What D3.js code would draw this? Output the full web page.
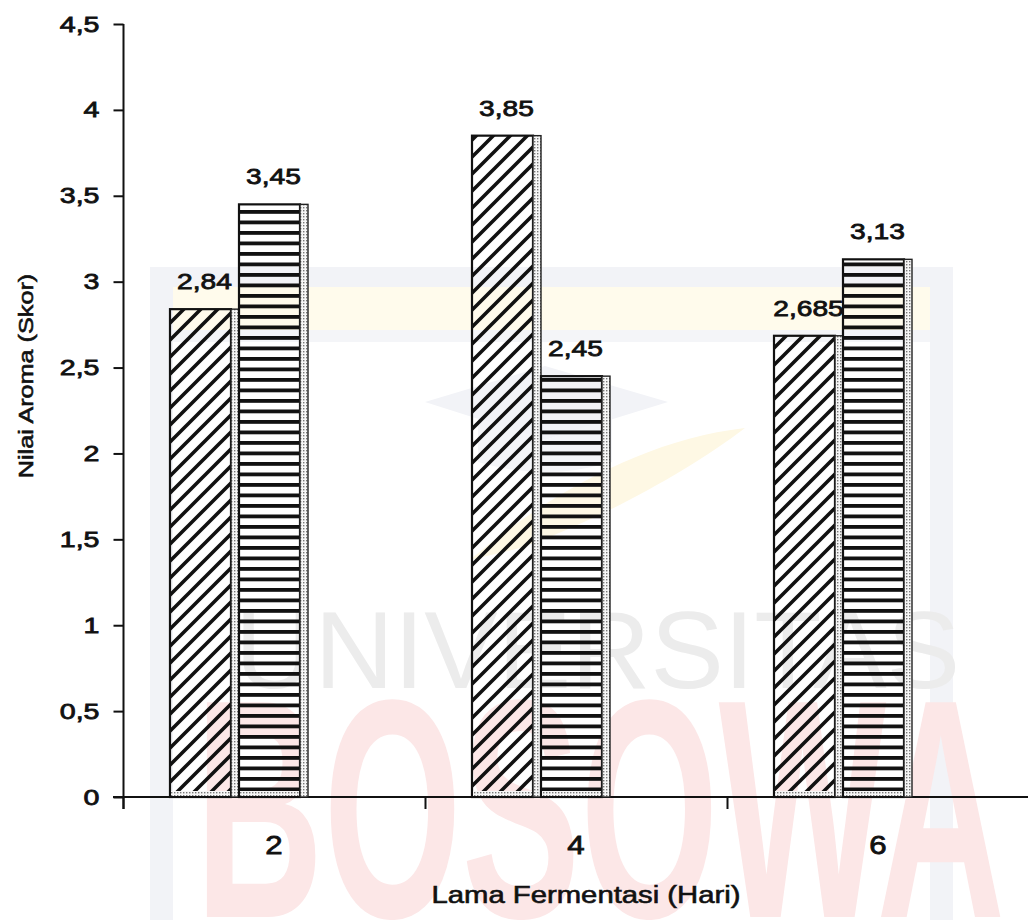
<!DOCTYPE html>
<html>
<head>
<meta charset="utf-8">
<script src="https://cdn.jsdelivr.net/npm/d3@7"></script>
<style>
  html, body { margin: 0; padding: 0; background: #fff; }
  svg { display: block; }
  text { font-family: "Liberation Sans", Arial, Helvetica, sans-serif; fill: #111; }
</style>
</head>
<body>
<svg id="chart" width="1028" height="920"></svg>
<script>
// ---- data ----
const categories = ["2", "4", "6"];                 // Lama fermentasi (hari)
const seriesHatched = [2.84, 3.85, 2.685];          // diagonal-hatched bars
const seriesStriped = [3.45, 2.45, 3.13];           // horizontal-striped bars
const yTicks = [0, 0.5, 1, 1.5, 2, 2.5, 3, 3.5, 4, 4.5];
const xTitle = "Lama Fermentasi (Hari)";
const yTitle = "Nilai Aroma (Skor)";

// decimal comma, as in the Indonesian number format
const fmt = v => String(v).replace(".", ",");

const svg = d3.select("#chart");

// ---- scales ----
const y = d3.scaleLinear().domain([0, 4.5]).range([797, 24]);
const x = d3.scaleBand().domain(categories).range([123, 1029]).padding(0);

// ---- patterns ----
const defs = svg.append("defs");
const hatch = defs.append("pattern").attr("id", "hatch")
  .attr("patternUnits", "userSpaceOnUse").attr("width", 17).attr("height", 17);
hatch.append("path")
  .attr("d", "M-4,4 L4,-4 M0,17 L17,0 M13,21 L21,13")
  .attr("stroke", "#111").attr("stroke-width", 3.6);

const stripes = defs.append("pattern").attr("id", "stripes")
  .attr("patternUnits", "userSpaceOnUse").attr("width", 10).attr("height", 10.5);
stripes.append("rect").attr("width", 10).attr("height", 3.8).attr("fill", "#111");

const dots = defs.append("pattern").attr("id", "dots")
  .attr("patternUnits", "userSpaceOnUse").attr("width", 3).attr("height", 3);
dots.append("rect").attr("width", 3).attr("height", 3).attr("fill", "#f6f6f6");
dots.append("rect").attr("width", 1.4).attr("height", 1.4).attr("fill", "#777");

// ---- faint background emblem ----
const emblem = svg.append("g").attr("class", "emblem");
emblem.append("rect").attr("x", 150).attr("y", 267).attr("width", 803).attr("height", 660).attr("fill", "#f2f3f7");
emblem.append("rect").attr("x", 173).attr("y", 287).attr("width", 757).attr("height", 660).attr("fill", "#fff");
emblem.append("rect").attr("x", 173).attr("y", 287).attr("width", 757).attr("height", 43).attr("fill", "#fffbec");
emblem.append("rect").attr("x", 173).attr("y", 330).attr("width", 757).attr("height", 12).attr("fill", "#f4f5f8");
// mortarboard
emblem.append("path")
  .attr("d", "M425,402 L545,366 L668,402 L545,440 Z")
  .attr("fill", "#f2f3f7");
emblem.append("path")
  .attr("d", "M478,418 L478,462 Q545,482 612,462 L612,418 L545,440 Z")
  .attr("fill", "#f4f5f8");
// quill
emblem.append("path")
  .attr("d", "M470,560 C540,500 640,440 745,428 C690,470 600,520 520,548 Z")
  .attr("fill", "#fef8e4");
emblem.append("text")
  .attr("x", 235).attr("y", 688)
  .attr("font-size", 110)
  .attr("textLength", 725).attr("lengthAdjust", "spacingAndGlyphs")
  .style("fill", "#ececec")
  .text("UNIVERSITAS");
emblem.append("text")
  .attr("x", 195).attr("y", 917)
  .attr("font-size", 312).attr("font-weight", "bold")
  .attr("font-family", "'DejaVu Sans', 'Liberation Sans', sans-serif")
  .attr("textLength", 810).attr("lengthAdjust", "spacingAndGlyphs")
  .style("fill", "#fce7e7")
  .text("BOSOWA");

// ---- y axis ----
const yAxis = svg.append("g").attr("transform", "translate(123.5,0)")
  .call(d3.axisLeft(y).tickValues(yTicks).tickFormat(fmt).tickSize(10));
yAxis.select(".domain").remove();
yAxis.selectAll(".tick line").attr("stroke", "#111").attr("stroke-width", 2);
yAxis.selectAll(".tick text")
  .attr("x", null)
  .attr("transform", "translate(-24,0) scale(1.3,1)")
  .attr("font-size", 22)
  .attr("stroke", "#111").attr("stroke-width", 0.8)
  .style("fill", "#111");
svg.append("line")
  .attr("x1", 123.5).attr("x2", 123.5)
  .attr("y1", y(4.5)).attr("y2", y(0) + 12)
  .attr("stroke", "#111").attr("stroke-width", 2);

// ---- x axis ----
svg.append("line")
  .attr("x1", 113).attr("x2", 1028)
  .attr("y1", y(0)).attr("y2", y(0))
  .attr("stroke", "#111").attr("stroke-width", 2);
svg.append("g").selectAll("line").data(categories).join("line")
  .attr("x1", d => x(d) + 0.5).attr("x2", d => x(d) + 0.5)
  .attr("y1", y(0)).attr("y2", y(0) + 12)
  .attr("stroke", "#111").attr("stroke-width", 2);

const xAxis = svg.append("g").attr("transform", `translate(0,${y(0)})`)
  .call(d3.axisBottom(x).tickSize(0).tickPadding(39));
xAxis.select(".domain").remove();
xAxis.selectAll(".tick text")
  .attr("transform", "scale(1.2,1)")
  .attr("font-size", 26)
  .attr("stroke", "#111").attr("stroke-width", 0.8)
  .style("fill", "#111");

// ---- bars ----
const slot = 69, strip = 8, groupOffset = 47;
const series = [
  { values: seriesHatched, fill: "url(#hatch)" },
  { values: seriesStriped, fill: "url(#stripes)" }
];
const bars = svg.append("g").attr("class", "bars");
series.forEach((s, si) => {
  const rows = categories.map((c, i) => ({ c, v: s.values[i], x0: x(c) + groupOffset + si * slot }));
  const g = bars.append("g");
  // front face
  g.selectAll("rect.face").data(rows).join("rect").attr("class", "face")
    .attr("x", d => d.x0).attr("y", d => y(d.v))
    .attr("width", slot - strip).attr("height", d => y(0) - y(d.v))
    .attr("fill", s.fill).attr("stroke", "#111").attr("stroke-width", 2.2);
  // side depth strip
  g.selectAll("rect.side").data(rows).join("rect").attr("class", "side")
    .attr("x", d => d.x0 + slot - strip).attr("y", d => y(d.v))
    .attr("width", strip).attr("height", d => y(0) - y(d.v))
    .attr("fill", "url(#dots)").attr("stroke", "#222").attr("stroke-width", 1.4);
  // bottom depth strip
  g.selectAll("rect.base").data(rows).join("rect").attr("class", "base")
    .attr("x", d => d.x0 + 1).attr("y", y(0) - 6)
    .attr("width", slot - strip - 2).attr("height", 5)
    .attr("fill", "url(#dots)");
  // value labels
  g.selectAll("text").data(rows).join("text")
    .attr("transform", d => `translate(${d.x0 + slot / 2},${y(d.v) - 20}) scale(1.28,1)`)
    .attr("text-anchor", "middle")
    .attr("font-size", 22)
    .attr("stroke", "#111").attr("stroke-width", 0.8)
    .text(d => fmt(d.v));
});

// ---- axis titles ----
svg.append("text")
  .attr("transform", "translate(586,903) scale(1.22,1)")
  .attr("text-anchor", "middle")
  .attr("font-size", 24)
  .attr("stroke", "#111").attr("stroke-width", 0.6)
  .text(xTitle);
svg.append("text")
  .attr("transform", "translate(33,376) rotate(-90) scale(1.2,1)")
  .attr("text-anchor", "middle")
  .attr("font-size", 21)
  .attr("stroke", "#111").attr("stroke-width", 0.6)
  .text(yTitle);
</script>
</body>
</html>
